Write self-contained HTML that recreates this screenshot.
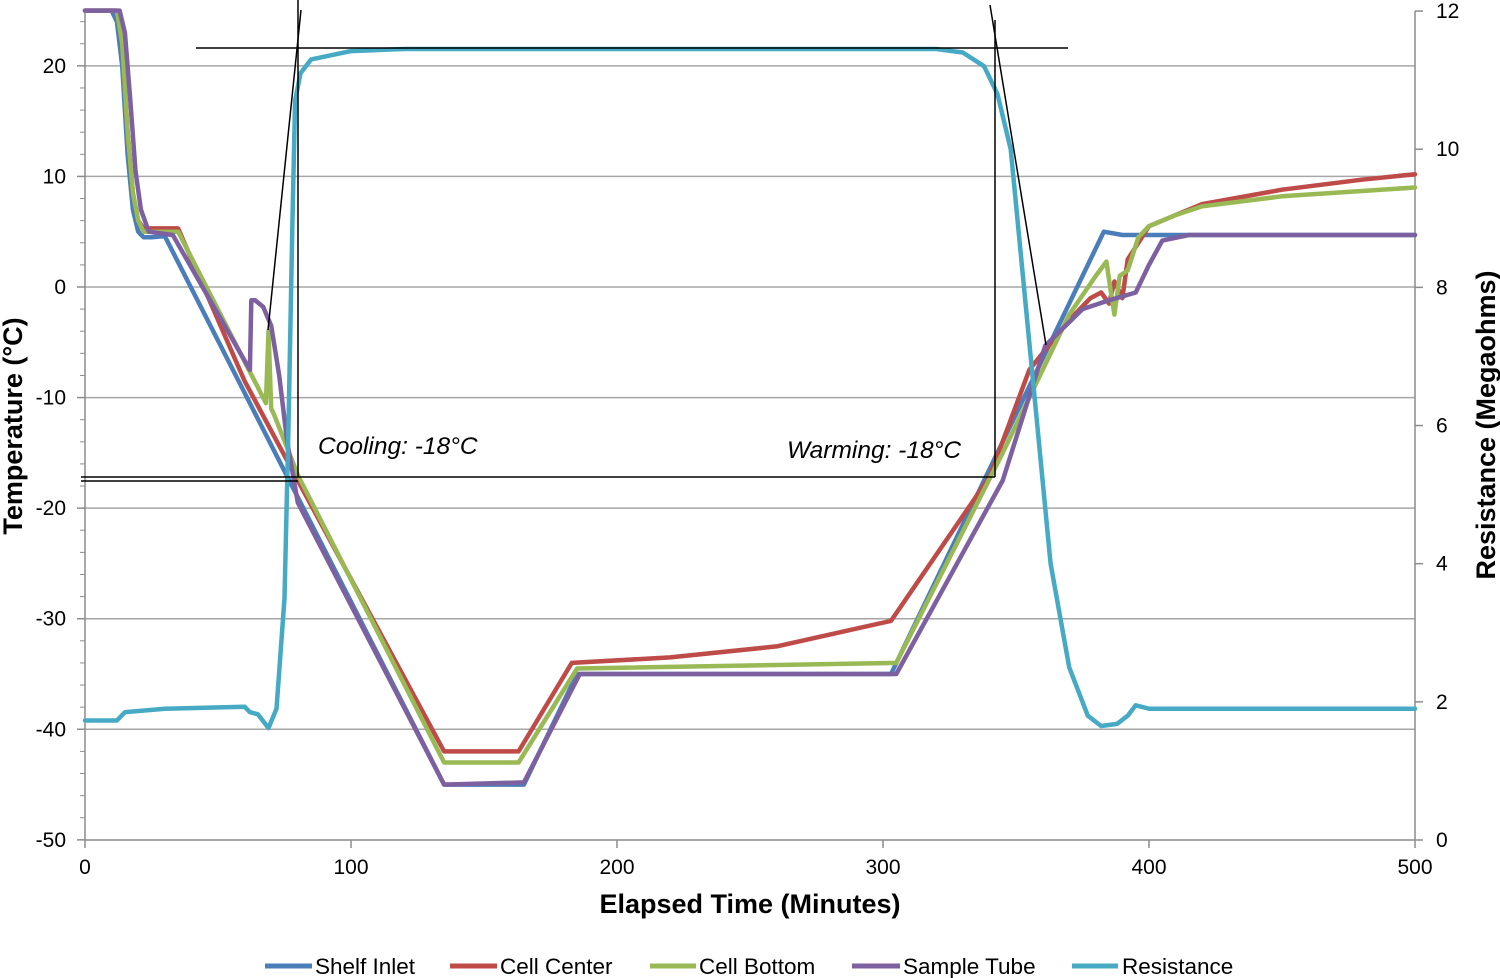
<!DOCTYPE html>
<html><head><meta charset="utf-8">
<style>
html,body{margin:0;padding:0;background:#fff;}
svg{display:block;font-family:"Liberation Sans",sans-serif;}
</style></head>
<body>
<svg id="chart" width="1500" height="978" viewBox="0 0 1500 978"></svg>
<script>
// ---- data ----
const xTicks = [0,100,200,300,400,500];
const leftTicks = [-50,-40,-30,-20,-10,0,10,20];
const rightTicks = [0,2,4,6,8,10,12];
const shelfT = [0,10,12,14,16,18,20,22,25,30,135,165,185,303,383,390,500];
const shelfV = [25,25,24,20,12,7,5,4.5,4.5,4.6,-45,-45,-35,-35,5,4.7,4.7];
const centerT = [0,12,14,16,18,20,22,35,60,80,135,163,183,220,260,303,340,355,370,378,382,385,387,390,392,396,400,410,420,450,480,500];
const centerV = [25,25,22,14,8.5,6,5.3,5.3,-8.5,-17.5,-42,-42,-34,-33.5,-32.5,-30.2,-17.2,-7.5,-3,-1,-0.5,-1.5,0.5,-1,2.5,4,5.5,6.5,7.5,8.8,9.7,10.2];
const bottomT = [0,12,14,16,18,20,22,35,68,69,70,71,80,135,163,185,305,345,370,380,384,386,387,389,392,396,400,410,420,450,500];
const bottomV = [25,25,22,14,8.5,6,5,5,-10.5,-4,-11,-11.5,-17,-43,-43,-34.5,-34,-15,-2.5,1,2.3,-1,-2.5,1,1.5,4.5,5.5,6.5,7.3,8.2,9];
const tubeT = [0,13,15,17,19,21,24,33,62,62.5,64,67,70,73,76,80,135,165,186,305,345,361,375,385,395,400,405,415,500];
const tubeV = [25,25,23,17,10.5,7,5,4.7,-7.5,-1.2,-1.2,-1.8,-3.5,-8,-14,-19.5,-45,-44.8,-35,-35,-17.5,-5.3,-2,-1.2,-0.5,2,4.2,4.7,4.7];
const resT = [0,12,15,30,60,62,65,69,72,75,76.5,78,79,81,85,100,120,320,330,338,343,348,353,358,363,370,377,382,388,392,395,400,500];
const resV = [1.73,1.73,1.85,1.9,1.93,1.85,1.82,1.62,1.9,3.5,6,9,10.7,11.1,11.3,11.42,11.45,11.45,11.4,11.2,10.8,10,8,6,4,2.5,1.8,1.65,1.68,1.8,1.95,1.9,1.9];

const X0=85, XS=2.66, YL0=287, YLS=11.057, YR0=840, YRS=69.08;
const xs = t => X0 + t*XS;
const yl = v => YL0 - v*YLS;
const yr = v => YR0 - v*YRS;

const svg = document.getElementById('chart');
const NS='http://www.w3.org/2000/svg';
function mk(tag, attrs, parent){const e=document.createElementNS(NS,tag);for(const k in attrs)e.setAttribute(k,attrs[k]);(parent||svg).appendChild(e);return e;}

for (const v of leftTicks){ if(v===-50) continue;
  const g=mk('line',{x1:85,x2:1415,y1:yl(v),y2:yl(v),stroke:'#a6a6a6','stroke-width':1.5});
  
  
}
const ax=mk('line',{x1:85,x2:1415,y1:840,y2:840,stroke:'#8c8c8c','stroke-width':1.5});


const ayl=mk('line',{x1:85,x2:85,y1:11,y2:840,stroke:'#8c8c8c','stroke-width':1.5});


const ayr=mk('line',{x1:1415,x2:1415,y1:11,y2:840,stroke:'#8c8c8c','stroke-width':1.5});


for(let v=-50; v<=25; v+=2){ mk('line',{x1:80,x2:85,y1:yl(v),y2:yl(v),stroke:'#8c8c8c','stroke-width':1}); }
for (const v of leftTicks){
  mk('line',{x1:77,x2:85,y1:yl(v),y2:yl(v),stroke:'#8c8c8c','stroke-width':1.5});
  const t=mk('text',{x:66,y:yl(v)+7,'text-anchor':'end','font-size':21,fill:'#000'});
  t.textContent=v;
  
  
}
for (const v of rightTicks){
  mk('line',{x1:1415,x2:1423,y1:yr(v),y2:yr(v),stroke:'#8c8c8c','stroke-width':1.5});
  const t=mk('text',{x:1436,y:yr(v)+7,'font-size':21,fill:'#000'});
  t.textContent=v;
  
  
}
for (const v of xTicks){
  mk('line',{x1:xs(v),x2:xs(v),y1:840,y2:848,stroke:'#8c8c8c','stroke-width':1.5});
  const t=mk('text',{x:xs(v),y:874,'text-anchor':'middle','font-size':21,fill:'#000'});
  t.textContent=v;
  
  
}
function series(T,V,fy,color,name){
  const d=T.map((t,i)=>(i?'L':'M')+xs(t).toFixed(1)+','+fy(V[i]).toFixed(1)).join(' ');
  const p=mk('path',{d:d,fill:'none',stroke:color,'stroke-width':4.5,'stroke-linejoin':'round','stroke-linecap':'round'});
  
  
}
series(shelfT,shelfV,yl,'#4a7ebb','shelf-inlet-line');
series(centerT,centerV,yl,'#be4b48','cell-center-line');
series(bottomT,bottomV,yl,'#98b954','cell-bottom-line');
series(tubeT,tubeV,yl,'#7d60a0','sample-tube-line');
series(resT,resV,yr,'#46aac5','resistance-line');

const ann=[[196,48,1068,48],[81,477,298,477],[81,481,298,481],[298,477,995,477],[298,0,298,477],[995,20,995,477],[268,330,301,10],[990,5,1046,345]];
for(const a of ann){
  const l=mk('line',{x1:a[0],y1:a[1],x2:a[2],y2:a[3],stroke:'#000','stroke-width':1.5});
  
  
}
</script>
<div style="position:absolute;left:0;top:0;width:1500px;height:978px;pointer-events:none;">
<svg width="1500" height="978" style="position:absolute;left:0;top:0">
  <text x="318" y="454" font-size="24.5" font-style="italic" font-family="Liberation Sans, sans-serif">Cooling: -18°C</text>
  <text x="787" y="458" font-size="24.5" font-style="italic" font-family="Liberation Sans, sans-serif">Warming: -18°C</text>
  <text x="750" y="913" font-size="27" font-weight="bold" text-anchor="middle" font-family="Liberation Sans, sans-serif">Elapsed Time (Minutes)</text>
  <text transform="translate(22,426) rotate(-90)" font-size="27" font-weight="bold" text-anchor="middle" font-family="Liberation Sans, sans-serif">Temperature (°C)</text>
  <text transform="translate(1495,425) rotate(-90)" font-size="27" font-weight="bold" text-anchor="middle" font-family="Liberation Sans, sans-serif">Resistance (Megaohms)</text>
  <g font-size="22.5" font-family="Liberation Sans, sans-serif">
    <line x1="265" x2="312" y1="966" y2="966" stroke="#4a7ebb" stroke-width="5"/>
    <text x="315" y="974">Shelf Inlet</text>
    <line x1="450" x2="497" y1="966" y2="966" stroke="#be4b48" stroke-width="5"/>
    <text x="500" y="974">Cell Center</text>
    <line x1="650" x2="696" y1="966" y2="966" stroke="#98b954" stroke-width="5"/>
    <text x="699" y="974">Cell Bottom</text>
    <line x1="852" x2="900" y1="966" y2="966" stroke="#7d60a0" stroke-width="5"/>
    <text x="903" y="974">Sample Tube</text>
    <line x1="1072" x2="1118" y1="966" y2="966" stroke="#46aac5" stroke-width="5"/>
    <text x="1122" y="974">Resistance</text>
  </g>
</svg>
</div>
</body></html>
